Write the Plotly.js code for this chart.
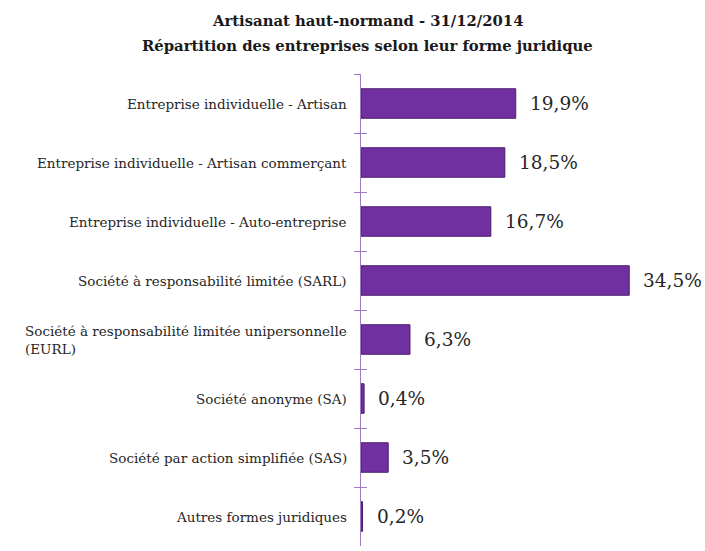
<!DOCTYPE html>
<html>
<head>
<meta charset="utf-8">
<script src="https://cdn.plot.ly/plotly-3.0.1.min.js"></script>
<style>html,body{margin:0;padding:0;background:#fff;}#chart{width:705px;height:551px;}</style>
</head>
<body>
<div id="chart"></div>
<script>
const categories = [
  "Entreprise individuelle - Artisan",
  "Entreprise individuelle - Artisan commerçant",
  "Entreprise individuelle - Auto-entreprise",
  "Société à responsabilité limitée (SARL)",
  "Société à responsabilité limitée unipersonnelle<br>(EURL)",
  "Société anonyme (SA)",
  "Société par action simplifiée (SAS)",
  "Autres formes juridiques"
];
const values = [19.9, 18.5, 16.7, 34.5, 6.3, 0.4, 3.5, 0.2];
const valueLabels = ["19,9%", "18,5%", "16,7%", "34,5%", "6,3%", "0,4%", "3,5%", "0,2%"];
const titleLines = ["Artisanat haut-normand - 31/12/2014", "Répartition des entreprises selon leur forme juridique"];

const FONT = "DejaVu Serif";
const AXIS_COLOR = "#9f7bc6";

const traces = [
  {
    type: "bar",
    orientation: "h",
    x: values,
    y: categories,
    marker: { color: "#7030a0", line: { color: "#4b1d70", width: 1 } },
    hoverinfo: "skip",
    cliponaxis: false
  },
  {
    type: "bar",
    orientation: "h",
    x: values.map(() => 0),
    y: categories,
    yaxis: "y2",
    marker: { color: "rgba(0,0,0,0)" },
    hoverinfo: "skip",
    showlegend: false
  }
];

const annotations = [];
categories.forEach((c, i) => {
  annotations.push({
    x: 0, xref: "paper", y: c, yref: "y",
    text: c, showarrow: false, xanchor: "right", align: "left",
    xshift: -12,
    font: { family: FONT, size: 13.5, color: "#262626" }
  });
  annotations.push({
    x: values[i], xref: "x", y: c, yref: "y",
    text: valueLabels[i], showarrow: false, xanchor: "left",
    xshift: 12,
    font: { family: FONT, size: 18.5, color: "#262626" }
  });
});
titleLines.forEach((t, i) => {
  annotations.push({
    x: 0.0225, xref: "paper", y: 1, yref: "paper",
    text: "<b>" + t + "</b>", showarrow: false,
    xanchor: "center", yanchor: "middle",
    yshift: i === 0 ? 54 : 29,
    font: { family: FONT, size: 14.8, color: "#1a1a1a" }
  });
});

const layout = {
  width: 705, height: 551,
  margin: { l: 361, r: 33, t: 74, b: 5, pad: 0 },
  paper_bgcolor: "#fff", plot_bgcolor: "#fff",
  showlegend: false,
  bargap: 0.5,
  font: { family: FONT },
  xaxis: {
    range: [0, 40], visible: false, fixedrange: true
  },
  yaxis: {
    type: "category", autorange: "reversed",
    showticklabels: false, tickson: "boundaries",
    ticks: "outside", ticklen: 6, tickwidth: 1, tickcolor: AXIS_COLOR,
    showline: true, linecolor: AXIS_COLOR, linewidth: 1,
    showgrid: false, zeroline: false, fixedrange: true
  },
  yaxis2: {
    type: "category", autorange: "reversed", overlaying: "y",
    showticklabels: false, tickson: "boundaries",
    ticks: "inside", ticklen: 6, tickwidth: 1, tickcolor: AXIS_COLOR,
    showline: false, showgrid: false, zeroline: false, fixedrange: true
  },
  annotations: annotations
};

Plotly.newPlot("chart", traces, layout, { displayModeBar: false, staticPlot: true });
</script>
</body>
</html>
